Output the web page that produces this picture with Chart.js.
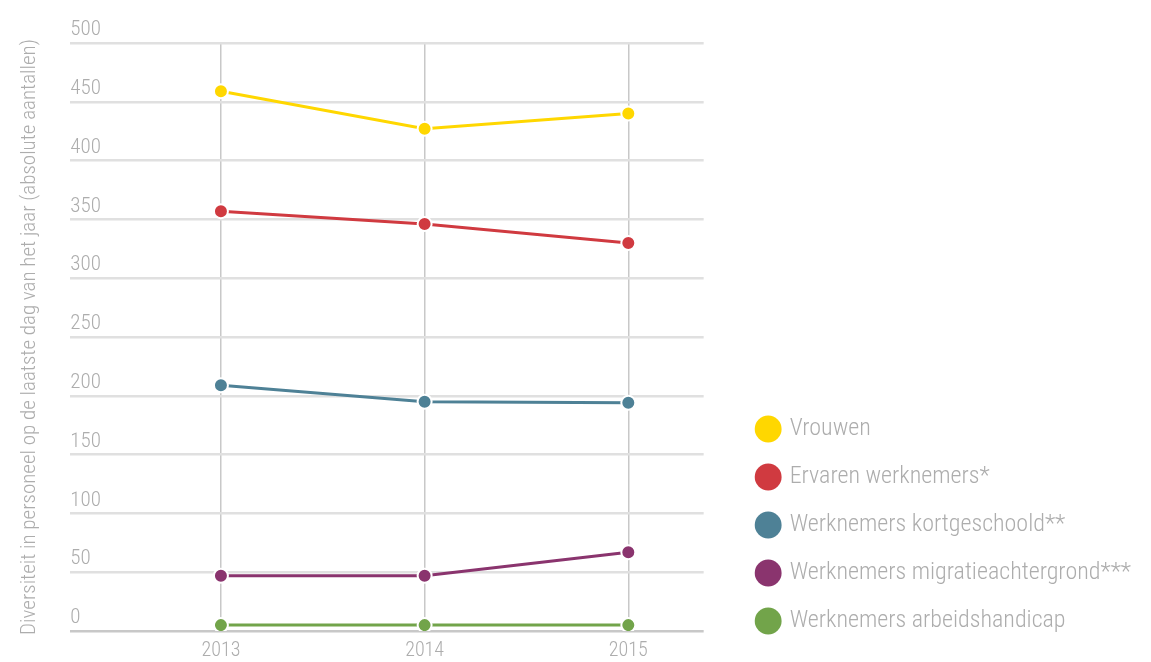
<!DOCTYPE html>
<html>
<head>
<meta charset="utf-8">
<script src="https://cdn.jsdelivr.net/npm/chart.js@4"></script>
<style>
  html, body { margin: 0; padding: 0; background: #fff; }
  #wrap { width: 1151px; height: 662px; }
</style>
</head>
<body>
<div id="wrap"><canvas id="chart"></canvas></div>
<script>
const years = [2013, 2014, 2015];
const yTicks = [0, 50, 100, 150, 200, 250, 300, 350, 400, 450, 500];

const vrouwen = [459, 427, 440];
const ervaren = [357, 346, 330];
const kortgeschoold = [209, 195, 194];
const migratie = [47, 47, 67];
const handicap = [5, 5, 5];

const seriesNames = [
  'Vrouwen',
  'Ervaren werknemers*',
  'Werknemers kortgeschoold**',
  'Werknemers migratieachtergrond***',
  'Werknemers arbeidshandicap'
];
const seriesColors = ['#FFD700', '#D03A40', '#4E8196', '#8A346E', '#72A44A'];

const font = "'Roboto Condensed', 'DejaVu Sans Condensed', sans-serif";
const textGrey = '#adadad';

function makeSet(i, values) {
  return {
    label: seriesNames[i],
    data: years.map((yr, k) => ({ x: yr, y: values[k] })),
    borderColor: seriesColors[i],
    backgroundColor: seriesColors[i],
    pointBackgroundColor: seriesColors[i],
    pointBorderColor: '#fff',
    pointBorderWidth: 2,
    pointRadius: 7,
    pointHoverRadius: 7,
    borderWidth: 3,
    tension: 0
  };
}

const chart = new Chart(document.getElementById('chart'), {
  type: 'line',
  data: {
    datasets: [
      makeSet(0, vrouwen),
      makeSet(1, ervaren),
      makeSet(2, kortgeschoold),
      makeSet(3, migratie),
      makeSet(4, handicap)
    ]
  },
  options: {
    responsive: true,
    maintainAspectRatio: false,
    animation: false,
    layout: { padding: { top: 43, right: 10, bottom: 5, left: 0 } },
    plugins: {
      tooltip: { enabled: false },
      legend: {
        position: 'right',
        align: 'end',
        maxWidth: 500,
        labels: {
          usePointStyle: true,
          pointStyle: 'circle',
          boxWidth: 19,
          boxHeight: 19,
          padding: 24,
          color: textGrey,
          font: { family: font, size: 24, weight: 300 },
          generateLabels(c) {
            const items = Chart.defaults.plugins.legend.labels.generateLabels(c);
            items.forEach((it, i) => {
              it.fillStyle = seriesColors[i];
              it.strokeStyle = seriesColors[i];
              it.lineWidth = 0;
              it.pointStyle = 'circle';
            });
            return items;
          }
        }
      }
    },
    scales: {
      x: {
        type: 'linear',
        min: 2012.26,
        max: 2015.37,
        afterBuildTicks(scale) {
          scale.ticks = years.map(v => ({ value: v }));
        },
        afterFit(scale) { scale.height = 26; },
        border: { display: false },
        grid: { color: '#c8c8c8', lineWidth: 1.5, drawTicks: false },
        ticks: {
          padding: 8,
          color: textGrey,
          font: { family: font, size: 20, weight: 300 },
          callback: v => String(v)
        }
      },
      y: {
        min: 0,
        max: 500,
        afterBuildTicks(scale) {
          scale.ticks = yTicks.map(v => ({ value: v }));
        },
        border: { display: false },
        grid: {
          color: ctx => ctx.tick && ctx.tick.value === 0 ? '#c8c8c8' : '#e0e0e0',
          lineWidth: 2.5,
          drawTicks: false
        },
        ticks: {
          mirror: true,
          padding: 0,
          labelOffset: -13,
          color: textGrey,
          font: { family: font, size: 21, weight: 300 }
        },
        title: {
          display: true,
          text: 'Diversiteit in personeel op de laatste dag van het jaar (absolute aantallen)',
          color: textGrey,
          font: { family: font, size: 21, weight: 300 },
          padding: { top: 17, bottom: 28 }
        }
      },
      gap: {
        type: 'linear',
        position: 'right',
        display: true,
        grid: { display: false },
        border: { display: false },
        ticks: { display: false },
        afterFit(scale) { scale.width = 31; }
      }
    }
  }
});
</script>
</body>
</html>
